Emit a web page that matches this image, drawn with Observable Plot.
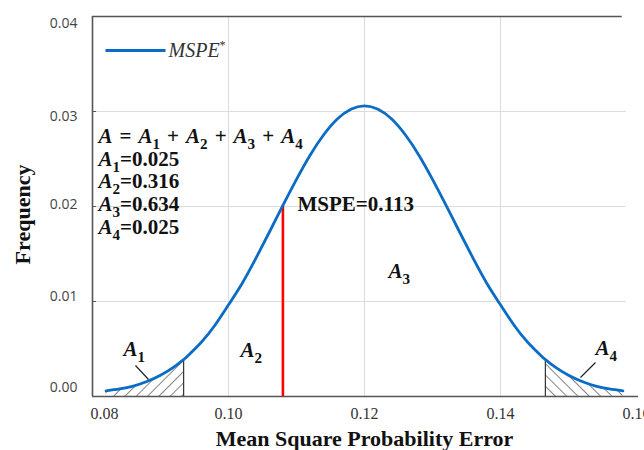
<!DOCTYPE html>
<html>
<head>
<meta charset="utf-8">
<script src="https://cdn.jsdelivr.net/npm/d3@7"></script>
<script src="https://cdn.jsdelivr.net/npm/@observablehq/plot@0.6"></script>
<style>
  html, body { margin: 0; padding: 0; background: #fff; }
  #chart svg { display: block; }
</style>
</head>
<body>
<div id="chart"></div>
<script>
// ---- data ----
const curveX = [0.082, 0.084, 0.086, 0.088, 0.090, 0.092, 0.0934, 0.094, 0.096, 0.098, 0.100, 0.102, 0.104, 0.106, 0.108, 0.110, 0.112, 0.114, 0.116, 0.118, 0.120, 0.122, 0.124, 0.126, 0.128, 0.130, 0.132, 0.134, 0.136, 0.138, 0.140, 0.142, 0.144, 0.146, 0.1466, 0.148, 0.150, 0.152, 0.154, 0.156, 0.158];
const curveY = [0.0006, 0.0008, 0.00110, 0.00158, 0.00224, 0.00312, 0.00389, 0.00427, 0.00571, 0.00750, 0.00965, 0.01190, 0.01451, 0.01729, 0.02012, 0.02286, 0.02540, 0.02755, 0.02921, 0.03024, 0.03060, 0.03024, 0.02921, 0.02755, 0.02540, 0.02286, 0.02012, 0.01729, 0.01451, 0.01190, 0.00965, 0.00750, 0.00571, 0.00427, 0.00389, 0.00312, 0.00224, 0.00158, 0.00110, 0.0008, 0.0006];
const a1End = 0.0934;       // right edge of hatched A1
const a4Start = 0.1466;     // left edge of hatched A4
const mspeX = 0.108;        // red line position
const mspeY = 0.0201;

const xTicks = [0.08, 0.10, 0.12, 0.14, 0.16];
const yTicks = [0.00, 0.01, 0.02, 0.03, 0.04];
const xGrid = [0.10, 0.12, 0.14];
const yGrid = [0.01, 0.02, 0.03];

const xTitle = "Mean Square Probability Error";
const yTitle = "Frequency";
const legendLabel = "{MSPE}^*";

// formula block ("{..}" italic, "_c" subscript)
const blockLines = ["{A}\u2004=\u2004{A}_1\u2004+\u2004{A}_2\u2004+\u2004{A}_3\u2004+\u2004{A}_4", "{A}_1=0.025", "{A}_2=0.316", "{A}_3=0.634", "{A}_4=0.025"];
const blockX = [0.08088, 0.08088, 0.08088, 0.08088, 0.08088];
const blockY = [0.02737, 0.02500, 0.02263, 0.02021, 0.01779];

const mspeLabel = "MSPE=0.113";
const mspeLabelPos = [0.11015, 0.02021];

const areaLabels = ["{A}_1", "{A}_2", "{A}_3", "{A}_4"];
const areaLabelX = [0.08456, 0.10176, 0.12353, 0.15397];
const areaLabelY = [0.00495, 0.00484, 0.01316, 0.00505];

// leader lines for A1 and A4
const leaderX1 = [0.08632, 0.15397];
const leaderY1 = [0.00326, 0.00358];
const leaderX2 = [0.08824, 0.15176];
const leaderY2 = [0.00179, 0.00200];

// legend sample line
const legendX = [0.08191, 0.09074];
const legendY = 0.03642;
const legendTextX = 0.09118;

// ---- build tables ----
const curve = curveX.map((x, i) => ({x, y: curveY[i]}));
const a1 = curve.filter(d => d.x <= a1End + 1e-9);
const a4 = curve.filter(d => d.x >= a4Start - 1e-9);
const a1H = curve.find(d => Math.abs(d.x - a1End) < 1e-9).y;
const a4H = curve.find(d => Math.abs(d.x - a4Start) < 1e-9).y;
const block = blockLines.map((t, i) => ({t, x: blockX[i], y: blockY[i]}));
const areaLab = areaLabels.map((t, i) => ({t, x: areaLabelX[i], y: areaLabelY[i]}));
const leaders = leaderX1.map((x1, i) => ({x1, y1: leaderY1[i], x2: leaderX2[i], y2: leaderY2[i]}));

const serif = "'Liberation Serif', 'Times New Roman', serif";
const sans = "'Open Sans', 'Liberation Sans', sans-serif";
const frameColor = "#555";

const plot = Plot.plot({
  width: 644,
  height: 450,
  marginLeft: 92,
  marginRight: 8,
  marginTop: 16,
  marginBottom: 54,
  x: {domain: [0.08, 0.16]},
  y: {domain: [0, 0.04]},
  marks: [
    Plot.ruleX(xGrid, {y1: 0, y2: 0.04, stroke: "#dcdcdc", strokeWidth: 1}),
    Plot.ruleY(yGrid, {x1: 0.08, x2: 0.1585, stroke: "#dcdcdc", strokeWidth: 1}),
    Plot.ruleY(yGrid, {x1: 0.08, x2: 0.0806, stroke: frameColor, strokeWidth: 1}),
    Plot.areaY(a1, {x: "x", y: "y", fill: "url(#hatchA1)"}),
    Plot.areaY(a4, {x: "x", y: "y", fill: "url(#hatchA4)"}),
    Plot.ruleX([a1End], {y1: 0, y2: a1H, stroke: "#333", strokeWidth: 1.2}),
    Plot.ruleX([a4Start], {y1: 0, y2: a4H, stroke: "#333", strokeWidth: 1.2}),
    Plot.ruleX([0.08], {y1: 0, y2: 0.04, stroke: frameColor, strokeWidth: 1.6}),
    Plot.ruleY([0.04], {x1: 0.08, x2: 0.1579, stroke: frameColor, strokeWidth: 1.6}),
    Plot.ruleY([0], {x1: 0.08, x2: 0.1603, stroke: frameColor, strokeWidth: 1.6}),
    Plot.axisX(xTicks, {tickFormat: ".2f", tickSize: 0, tickPadding: 11, label: null,
      fontFamily: serif, fontSize: 16, fill: "#333"}),
    Plot.axisY(yTicks, {tickFormat: ".2f", tickSize: 0, tickPadding: 15, label: null,
      fontFamily: sans, fontSize: 14, fill: "#444"}),
    Plot.ruleX([mspeX], {y1: 0, y2: mspeY, stroke: "#ff0000", strokeWidth: 2.6}),
    Plot.line(curve, {x: "x", y: "y", stroke: "#0a6cc4", strokeWidth: 2.8, curve: "natural"}),
    Plot.link(leaders, {x1: "x1", y1: "y1", x2: "x2", y2: "y2", stroke: "#222", strokeWidth: 1.2}),
    Plot.link([{x1: legendX[0], x2: legendX[1]}], {x1: "x1", x2: "x2", y1: legendY, y2: legendY, stroke: "#0a6cc4", strokeWidth: 2.8}),
    Plot.text([legendLabel], {x: legendTextX, y: legendY, text: d => d, textAnchor: "start",
      fontFamily: serif, fontSize: 20, fill: "#333"}),
    Plot.text(block, {x: "x", y: "y", text: "t", textAnchor: "start",
      fontFamily: serif, fontSize: 21, fontWeight: "bold", fill: "#111"}),
    Plot.text([mspeLabel], {x: mspeLabelPos[0], y: mspeLabelPos[1], text: d => d, textAnchor: "start",
      fontFamily: serif, fontSize: 21, fontWeight: "bold", fill: "#111"}),
    Plot.text(areaLab, {x: "x", y: "y", text: "t", textAnchor: "start",
      fontFamily: serif, fontSize: 21, fontWeight: "bold", fill: "#111"}),
    Plot.text([xTitle], {frameAnchor: "bottom", dy: 42, text: d => d, textAnchor: "middle", lineAnchor: "middle",
      fontFamily: serif, fontSize: 22, fontWeight: "bold", fill: "#111"}),
    Plot.text([yTitle], {frameAnchor: "left", dx: -70, dy: 8, rotate: -90, text: d => d, textAnchor: "middle", lineAnchor: "middle",
      fontFamily: serif, fontSize: 22, fontWeight: "bold", fill: "#111"})
  ]
});

// hatch patterns
const svg = d3.select(plot);
const defs = svg.insert("defs", ":first-child");
[["hatchA1", 45], ["hatchA4", -45]].forEach(([id, ang]) => {
  const p = defs.append("pattern").attr("id", id).attr("patternUnits", "userSpaceOnUse")
    .attr("width", 8).attr("height", 8).attr("patternTransform", `rotate(${ang})`);
  p.append("line").attr("x1", 0).attr("y1", 0).attr("x2", 0).attr("y2", 8)
    .attr("stroke", "#333").attr("stroke-width", 1.2);
});

document.getElementById("chart").appendChild(plot);

// enforce font families inline (serif everywhere except y tick labels)
svg.selectAll("text").style("font-family", serif);
svg.selectAll("g[aria-label='y-axis tick label'] text").style("font-family", sans);

// label nudges as in the reference (y labels slightly compressed, first x label shifted)
const nudge = (el, dx, dy) => {
  const tr = el.getAttribute("transform") || "";
  el.setAttribute("transform", `translate(${dx},${dy}) ${tr}`.trim());
};
const yOff = [-9, -5, -2, 5, 7];
svg.selectAll("g[aria-label='y-axis tick label'] text").each(function(d, i) {
  if (i < yOff.length) nudge(this, 0, yOff[i]);
});
svg.selectAll("g[aria-label='x-axis tick label'] text").each(function(d, i) {
  if (i === 0) nudge(this, 12, 0);
});

// rich text: {..} italic, _c subscript, ^c superscript
svg.selectAll("text").each(function() {
  const el = this;
  if (el.querySelector("tspan")) return;
  const t = el.textContent;
  if (!/[{_^]/.test(t)) return;
  const parts = [];
  let italic = false;
  for (let i = 0; i < t.length; i++) {
    const c = t[i];
    if (c === "{") italic = true;
    else if (c === "}") italic = false;
    else if ((c === "_" || c === "^") && i + 1 < t.length) {
      parts.push({s: t[i + 1], italic: false, shift: c === "_" ? 1 : -1});
      i++;
    } else {
      const last = parts[parts.length - 1];
      if (last && last.shift === 0 && last.italic === italic) last.s += c;
      else parts.push({s: c, italic, shift: 0});
    }
  }
  const fs = parseFloat(getComputedStyle(el).fontSize) || 20;
  el.textContent = "";
  let cur = 0;
  parts.forEach(p => {
    const target = p.shift === 1 ? fs * 0.28 : p.shift === -1 ? -fs * 0.42 : 0;
    const ts = d3.select(el).append("tspan").text(p.s);
    if (target !== cur) ts.attr("dy", target - cur);
    cur = target;
    if (p.italic) ts.attr("font-style", "italic");
    if (p.shift !== 0) ts.attr("font-size", fs * (p.shift === 1 ? 0.72 : 0.6));
  });
});
</script>
</body>
</html>
